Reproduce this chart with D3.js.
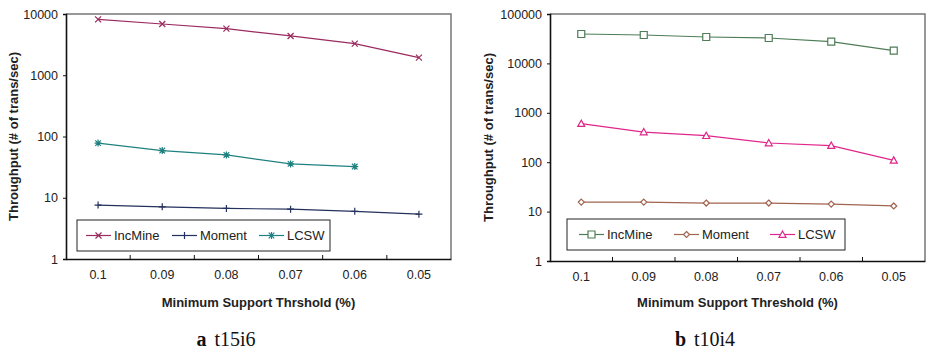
<!DOCTYPE html>
<html>
<head>
<meta charset="utf-8">
<script src="https://cdn.jsdelivr.net/npm/d3@7"></script>
<style>
  body { margin: 0; background: #fff; }
  svg { display: block; }
</style>
</head>
<body>
<div id="chart"></div>
<script>
// categories (minimum support threshold, %)
const thresholds = ["0.1", "0.09", "0.08", "0.07", "0.06", "0.05"];

// panel a: t15i6
const t15i6IncMine = [8180, 6870, 5760, 4380, 3280, 1940];
const t15i6Moment  = [7.6, 7.1, 6.7, 6.5, 6.0, 5.4];
const t15i6LCSW    = [78, 59, 50, 35.7, 32.3];

// panel b: t10i4
const t10i4IncMine = [39400, 37600, 34200, 32700, 27500, 18100];
const t10i4Moment  = [15.6, 15.6, 14.9, 14.9, 14.2, 13.0];
const t10i4LCSW    = [603, 408, 344, 245, 217, 109];

const ticksA = [1, 10, 100, 1000, 10000];
const ticksB = [1, 10, 100, 1000, 10000, 100000];

const svg = d3.select("#chart").append("svg")
  .attr("width", 926)
  .attr("height", 349);

const symX = size => `M${-size},${-size}L${size},${size}M${-size},${size}L${size},${-size}`;
const symPlus = size => `M${-size},0L${size},0M0,${-size}L0,${size}`;
const symStar = size => symX(size * 0.8) + symPlus(size);
const symSquare = size => `M${-size},${-size}h${2 * size}v${2 * size}h${-2 * size}Z`;
const symDiamond = size => `M0,${-size}L${size},0L0,${size}L${-size},0Z`;
const symTri = size => `M0,${-size}L${size},${size * 0.8}L${-size},${size * 0.8}Z`;

const drawPanel = cfg => {
  const g = svg.append("g");

  const x = d3.scaleBand()
    .domain(thresholds)
    .range([cfg.left, cfg.right]);

  const y = d3.scaleLog()
    .domain(d3.extent(cfg.ticks))
    .range([cfg.bottom, cfg.top]);

  // frame (top + right border)
  g.append("path")
    .attr("d", `M${cfg.left},${cfg.top}H${cfg.right}V${cfg.bottom}`)
    .attr("fill", "none")
    .attr("stroke", "#777")
    .attr("stroke-width", 1.5);

  // y axis
  const yAxis = g.append("g")
    .attr("transform", `translate(${cfg.left},0)`)
    .call(d3.axisLeft(y).tickValues(cfg.ticks).tickFormat(d3.format("d")).tickSize(3).tickPadding(5));
  yAxis.select(".domain").attr("stroke", "#111").attr("stroke-width", 1.6);
  yAxis.selectAll(".tick line").attr("stroke", "#111");
  yAxis.selectAll("text")
    .attr("font-family", "Liberation Sans, Arial, sans-serif")
    .attr("font-size", 12.5)
    .attr("fill", "#222");

  // x axis, tick marks between categories pointing inwards
  const xAxis = g.append("g")
    .attr("transform", `translate(0,${cfg.bottom})`)
    .call(d3.axisBottom(x).tickSize(0).tickPadding(11));
  xAxis.select(".domain").attr("stroke", "#111").attr("stroke-width", 1.6);
  xAxis.selectAll("text")
    .attr("font-family", "Liberation Sans, Arial, sans-serif")
    .attr("font-size", 12.5)
    .attr("fill", "#222");
  xAxis.selectAll(".sep")
    .data(thresholds.slice(1))
    .join("line")
      .attr("class", "sep")
      .attr("x1", d => x(d))
      .attr("x2", d => x(d))
      .attr("y1", 0)
      .attr("y2", -4)
      .attr("stroke", "#111");

  // axis titles
  g.append("text")
    .attr("transform", `translate(${cfg.yTitleX},${(cfg.top + cfg.bottom) / 2}) rotate(-90)`)
    .attr("text-anchor", "middle")
    .attr("dominant-baseline", "central")
    .attr("font-family", "Liberation Sans, Arial, sans-serif")
    .attr("font-weight", "bold")
    .attr("font-size", 13)
    .attr("fill", "#222")
    .text("Throughput (# of trans/sec)");

  g.append("text")
    .attr("x", (cfg.left + cfg.right) / 2)
    .attr("y", 307)
    .attr("text-anchor", "middle")
    .attr("font-family", "Liberation Sans, Arial, sans-serif")
    .attr("font-weight", "bold")
    .attr("font-size", 13)
    .attr("fill", "#222")
    .text(cfg.xTitle);

  // caption
  const cap = g.append("text")
    .attr("x", cfg.capX)
    .attr("y", 346)
    .attr("text-anchor", "middle")
    .attr("font-family", "Liberation Serif, Times New Roman, serif")
    .attr("font-size", 20)
    .attr("fill", "#111");
  cap.append("tspan").attr("font-weight", "bold").text(cfg.capLetter);
  cap.append("tspan").attr("dx", 8).text(cfg.capName);

  const line = d3.line()
    .x((d, i) => x(thresholds[i]) + x.bandwidth() / 2)
    .y(d => y(d));

  cfg.series.forEach(s => {
    g.append("path")
      .datum(s.values)
      .attr("d", line)
      .attr("fill", "none")
      .attr("stroke", s.color)
      .attr("stroke-width", 1.2);

    g.selectAll(null)
      .data(s.values)
      .join("path")
        .attr("transform", (d, i) => `translate(${x(thresholds[i]) + x.bandwidth() / 2},${y(d)})`)
        .attr("d", s.symbol)
        .attr("fill", s.fill ? "#fff" : "none")
        .attr("stroke", s.color)
        .attr("stroke-width", 1.2);
  });

  // legend
  const lg = g.append("g");
  lg.append("rect")
    .attr("x", cfg.legend.x)
    .attr("y", cfg.legend.y)
    .attr("width", cfg.legend.w)
    .attr("height", cfg.legend.h)
    .attr("fill", "#fff")
    .attr("stroke", "#222")
    .attr("stroke-width", 1);

  cfg.series.forEach((s, i) => {
    const lx = cfg.legend.x + cfg.legend.offsets[i];
    const ly = cfg.legend.y + cfg.legend.h / 2;
    lg.append("line")
      .attr("x1", lx).attr("x2", lx + 25)
      .attr("y1", ly).attr("y2", ly)
      .attr("stroke", s.color)
      .attr("stroke-width", 1.2);
    lg.append("path")
      .attr("transform", `translate(${lx + 12.5},${ly})`)
      .attr("d", s.symbol)
      .attr("fill", s.fill ? "#fff" : "none")
      .attr("stroke", s.color)
      .attr("stroke-width", 1.2);
    lg.append("text")
      .attr("x", lx + 28)
      .attr("y", ly)
      .attr("dominant-baseline", "central")
      .attr("font-family", "Liberation Sans, Arial, sans-serif")
      .attr("font-size", 13)
      .attr("fill", "#222")
      .text(s.name);
  });
};

drawPanel({
  left: 66, right: 451, top: 14, bottom: 259,
  ticks: ticksA,
  yTitleX: 13,
  xTitle: "Minimum Support Thrshold (%)",
  capX: 226, capLetter: "a", capName: "t15i6",
  legend: { x: 77, y: 220, w: 253, h: 31, offsets: [9, 95, 182] },
  series: [
    { name: "IncMine", values: t15i6IncMine, color: "#9b2a5f", symbol: symX(3) },
    { name: "Moment",  values: t15i6Moment,  color: "#24305e", symbol: symPlus(3.5) },
    { name: "LCSW",    values: t15i6LCSW,    color: "#1f8080", symbol: symStar(3.5) }
  ]
});

drawPanel({
  left: 550, right: 925, top: 14, bottom: 261,
  ticks: ticksB,
  yTitleX: 488,
  xTitle: "Minimum Support Threshold (%)",
  capX: 705, capLetter: "b", capName: "t10i4",
  legend: { x: 567, y: 219, w: 278, h: 31, offsets: [12, 107, 203] },
  series: [
    { name: "IncMine", values: t10i4IncMine, color: "#4f7d57", symbol: symSquare(3.5), fill: true },
    { name: "Moment",  values: t10i4Moment,  color: "#a0644f", symbol: symDiamond(3), fill: true },
    { name: "LCSW",    values: t10i4LCSW,    color: "#e0268a", symbol: symTri(3.5), fill: true }
  ]
});
</script>
</body>
</html>
